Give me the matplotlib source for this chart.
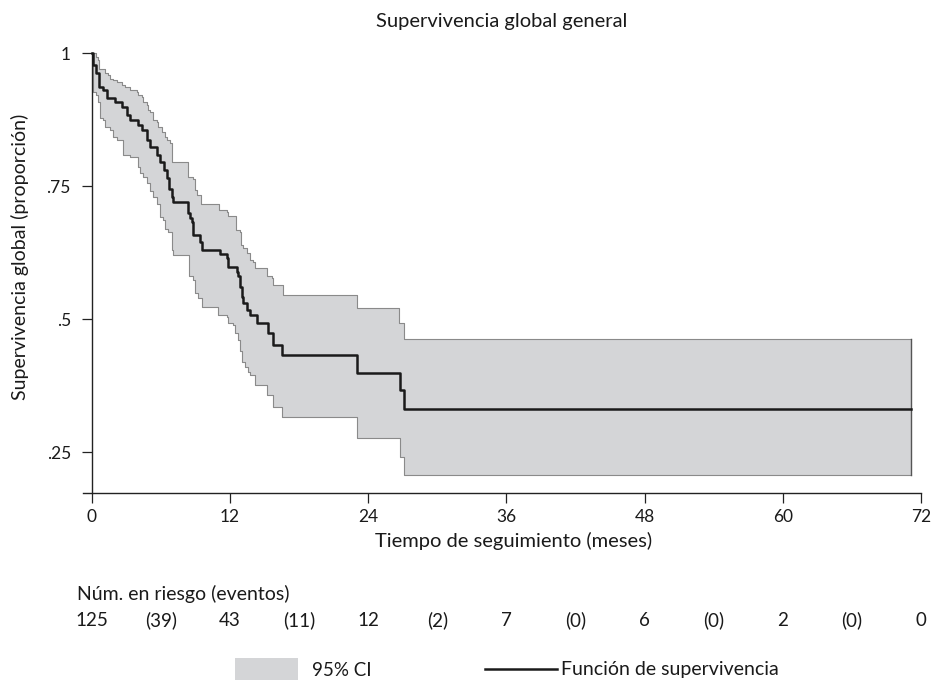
import matplotlib
matplotlib.use("Agg")
import matplotlib.pyplot as plt
import matplotlib.transforms as mtransforms
from matplotlib.patches import Rectangle
from matplotlib.lines import Line2D
import numpy as np

plt.rcParams['font.family'] = ['Lato', 'DejaVu Sans']

# Kaplan-Meier estimate (step-post): times in months and survival values
km_t = [0, 0.14, 0.37, 0.63, 1.01, 1.30, 2.02, 2.60, 3.04, 3.32, 4.05, 4.34, 4.77,
        5.06, 5.64, 5.93, 6.28, 6.54, 6.75, 6.94, 7.03, 8.39, 8.53, 8.68, 8.82, 9.40,
        9.55, 11.14, 11.72, 11.86, 12.59, 12.73, 12.87, 13.02, 13.16, 13.45, 13.74,
        14.32, 15.33, 15.76, 16.49, 23.06, 26.76, 27.11, 71.12]
km_s = [1.0, 0.977, 0.962, 0.937, 0.930, 0.915, 0.908, 0.899, 0.883, 0.874, 0.865, 0.855, 0.836,
        0.824, 0.808, 0.795, 0.780, 0.765, 0.745, 0.730, 0.720, 0.700, 0.690, 0.683, 0.658, 0.645,
        0.630, 0.622, 0.614, 0.598, 0.589, 0.580, 0.561, 0.542, 0.530, 0.517, 0.508,
        0.492, 0.473, 0.451, 0.432, 0.398, 0.367, 0.331, 0.331]

# Upper 95% CI (step-post)
up_t = [0, 0.37, 0.57, 0.66, 1.15, 1.44, 1.59, 1.88, 2.17, 2.60, 2.89, 3.32, 3.91, 4.05,
        4.34, 4.48, 4.77, 4.91, 5.06, 5.35, 5.64, 5.78, 6.08, 6.36, 6.56, 6.80, 6.94,
        8.39, 8.82, 8.97, 9.11, 9.46, 11.08, 11.72, 11.86, 12.53, 12.87, 12.93, 13.16,
        13.45, 13.74, 14.03, 14.18, 15.19, 15.63, 15.76, 16.58, 23.06, 26.70, 27.11, 71.12]
up_s = [1.0, 0.993, 0.987, 0.969, 0.962, 0.959, 0.952, 0.949, 0.946, 0.940, 0.937, 0.930, 0.927, 0.921,
        0.918, 0.908, 0.902, 0.893, 0.890, 0.874, 0.871, 0.861, 0.852, 0.843, 0.836, 0.830, 0.796,
        0.767, 0.764, 0.742, 0.733, 0.717, 0.705, 0.702, 0.694, 0.667, 0.664, 0.639, 0.633,
        0.624, 0.611, 0.608, 0.595, 0.580, 0.577, 0.564, 0.545, 0.520, 0.492, 0.463, 0.463]

# Lower 95% CI (step-post)
lo_t = [0, 0.14, 0.37, 0.57, 0.72, 1.01, 1.15, 1.59, 1.88, 2.17, 2.69, 3.32, 4.05, 4.19,
        4.48, 4.77, 5.06, 5.35, 5.64, 5.93, 6.22, 6.36, 6.65, 6.94, 7.08, 8.47, 8.82,
        8.97, 9.25, 9.55, 10.99, 11.72, 11.86, 12.30, 12.44, 12.70, 12.87, 13.05, 13.31,
        13.57, 13.74, 14.18, 15.19, 15.76, 16.49, 23.06, 26.76, 27.11, 71.12]
lo_s = [1.0, 0.927, 0.921, 0.908, 0.877, 0.874, 0.861, 0.855, 0.843, 0.836, 0.808, 0.805, 0.786, 0.774,
        0.767, 0.755, 0.740, 0.730, 0.717, 0.692, 0.686, 0.670, 0.664, 0.630, 0.620, 0.580, 0.573,
        0.548, 0.539, 0.523, 0.508, 0.504, 0.492, 0.489, 0.473, 0.460, 0.440, 0.420, 0.410,
        0.400, 0.395, 0.376, 0.357, 0.335, 0.316, 0.276, 0.241, 0.207, 0.207]

x_ticks = [0, 12, 24, 36, 48, 60, 72]
y_ticks = [0.25, 0.5, 0.75, 1.0]
y_ticklabels = ['.25', '.5', '.75', '1']

risk_t = [0, 6, 12, 18, 24, 30, 36, 42, 48, 54, 60, 66, 72]
risk_labels = ['125', '(39)', '43', '(11)', '12', '(2)', '7', '(0)', '6', '(0)', '2', '(0)', '0']

W, H = 934, 680
TXT = '#1a1a1a'
fig = plt.figure(figsize=(W / 100, H / 100), dpi=100)
ax = fig.add_axes([82.5 / W, 1 - 492.7 / H, (921 - 82.5) / W, (492.7 - 53) / H])

band_col = '#d4d5d7'
t_all = np.array(sorted(set(up_t) | set(lo_t)))
def step_eval(ts, ss, t):
    idx = np.searchsorted(ts, t, side='right') - 1
    return np.array(ss)[idx]
up_v = step_eval(np.array(up_t), up_s, t_all)
lo_v = step_eval(np.array(lo_t), lo_s, t_all)
ax.fill_between(t_all, lo_v, up_v, step='post', facecolor=band_col,
                edgecolor='none', zorder=1)
ax.step(up_t, up_s, where='post', color='#8a8a8a', lw=0.8, zorder=2)
ax.step(lo_t, lo_s, where='post', color='#8a8a8a', lw=0.8, zorder=2)
ax.plot([up_t[-1], lo_t[-1]], [up_s[-1], lo_s[-1]], color='#555555', lw=1.0, zorder=2)
ax.step(km_t, km_s, where='post', color=TXT, lw=1.8, zorder=3)

ax.set_xlim(-0.8, 72)
ax.set_ylim(0.1735, 1.0)
ax.spines['top'].set_visible(False)
ax.spines['right'].set_visible(False)
ax.spines['left'].set_position(('data', 0))
for s in ('left', 'bottom'):
    ax.spines[s].set_linewidth(1.0)
    ax.spines[s].set_color('#222222')
ax.set_xticks(x_ticks)
ax.set_xticklabels([str(v) for v in x_ticks])
ax.set_yticks(y_ticks)
ax.set_yticklabels(y_ticklabels)
ax.tick_params(axis='both', direction='out', length=7, width=0.9, color='#222222',
               labelsize=12.5, labelcolor=TXT)
ax.tick_params(axis='y', pad=8)
ax.tick_params(axis='x', pad=5)
ax.patch.set_visible(False)
for ln in ax.lines:
    ln.set_clip_on(False)

fig.text(514 / W, 1 - 541 / H, 'Tiempo de seguimiento (meses)', ha='center', va='center',
         fontsize=14.5, color=TXT)
fig.text(20 / W, 1 - 257 / H, 'Supervivencia global (proporción)', rotation=90,
         ha='center', va='center', fontsize=14, color=TXT)
fig.text(502 / W, 1 - 22 / H, 'Supervivencia global general', ha='center', va='center',
         fontsize=14.5, color=TXT)

# Number at risk table
fig.text(76.7 / W, 1 - 600 / H, 'Núm. en riesgo (eventos)', ha='left', va='baseline',
         fontsize=14, color=TXT)
trans = mtransforms.blended_transform_factory(ax.transData, fig.transFigure)
for t, lab in zip(risk_t, risk_labels):
    fig.text(t, 1 - 626 / H, lab, transform=trans, ha='center', va='baseline',
             fontsize=13.5, color=TXT)

# Legend
fig.patches.append(Rectangle((235 / W, 0), (298 - 235) / W, (680 - 658) / H,
                             transform=fig.transFigure, facecolor=band_col,
                             edgecolor='none'))
fig.text(312 / W, 1 - 675.5 / H, '95% CI', ha='left', va='baseline', fontsize=13.5,
         color=TXT)
fig.lines.append(Line2D([485 / W, 557 / W], [1 - 669 / H, 1 - 669 / H],
                        transform=fig.transFigure, color=TXT, lw=1.8))
fig.text(561 / W, 1 - 675.5 / H, 'Función de supervivencia', ha='left', va='baseline',
         fontsize=14, color=TXT)

fig.savefig('out.png', dpi=100, facecolor='white')
